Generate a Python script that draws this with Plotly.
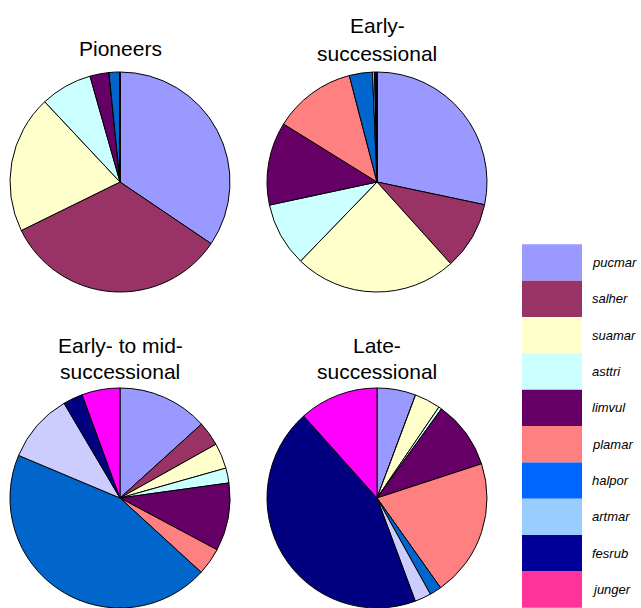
import plotly.graph_objects as go

W, H = 641, 608

# Species, in the order the slices run clockwise from 12 o'clock
species = ["pucmar", "salher", "suamar", "asttri", "limvul",
           "plamar", "halpor", "artmar", "fesrub", "junger"]

# Slice fill colours
pie_colors = ["#9999FF", "#993366", "#FFFFCC", "#CCFFFF", "#660066",
              "#FF8080", "#0066CC", "#CCCCFF", "#000080", "#FF00FF"]

# Swatch colours shown in the key
legend_colors = ["#9999FF", "#993366", "#FFFFCC", "#CCFFFF", "#660066",
                 "#FF8080", "#0066FF", "#99CCFF", "#000099", "#FF3399"]

# Relative cover (%) per successional stage
pioneers = [34.5, 33.3, 20.3, 7.6, 2.8, 0.0, 1.6, 0.0, 0.0, 0.0]
early = [28.3, 10.0, 23.9, 9.4, 12.2, 12.1, 3.4, 0.3, 0.35, 0.0]
early_mid = [13.3, 3.6, 3.75, 2.2, 10.0, 4.0, 44.6, 10.2, 2.9, 5.6]
late = [5.7, 0.0, 3.8, 0.45, 10.0, 20.2, 1.75, 2.4, 44.0, 11.6]

stages = [
    (["Pioneers"], pioneers, (120, 182), [48]),
    (["Early-", "successional"], early, (377, 182), [25, 53]),
    (["Early- to mid-", "successional"], early_mid, (120, 498), [345, 371]),
    (["Late-", "successional"], late, (377, 498), [345, 371]),
]

R = 110  # pie radius in px


def px(x):
    return x / W


def py(y):
    return min(1.0, max(0.0, 1 - y / H))


fig = go.Figure()
annotations = []
shapes = []

for title_lines, values, (cx, cy), title_ys in stages:
    fig.add_trace(go.Pie(
        labels=species,
        values=values,
        sort=False,
        direction="clockwise",
        rotation=0,
        textinfo="none",
        hoverinfo="label+percent",
        showlegend=False,
        marker=dict(colors=pie_colors, line=dict(color="#000000", width=1)),
        domain=dict(x=[px(cx - R), px(cx + R)], y=[py(cy + R), py(cy - R)]),
    ))
    for line, ty in zip(title_lines, title_ys):
        annotations.append(dict(
            text=line, x=px(cx), y=py(ty), xref="paper", yref="paper",
            xanchor="center", yanchor="middle", showarrow=False,
            font=dict(family="Liberation Sans, Arial", size=21, color="#000000"),
        ))

# Key: colour swatches with italic species codes
key_x0, key_x1, key_top, key_h = 522, 582, 244.3, 36.35
for i, (name, col) in enumerate(zip(species, legend_colors)):
    y0 = key_top + i * key_h
    shapes.append(dict(
        type="rect", xref="paper", yref="paper",
        x0=px(key_x0), x1=px(key_x1), y0=py(y0 + key_h), y1=py(y0),
        fillcolor=col, line=dict(width=0),
    ))
    annotations.append(dict(
        text=name, x=px(590), y=py(y0 + key_h / 2), xref="paper", yref="paper",
        xanchor="left", yanchor="middle", showarrow=False,
        font=dict(family="Liberation Sans, Arial", size=13, color="#000000",
                  style="italic"),
    ))

fig.update_layout(
    width=W, height=H,
    margin=dict(l=0, r=0, t=0, b=0),
    paper_bgcolor="#FFFFFF",
    plot_bgcolor="#FFFFFF",
    annotations=annotations,
    shapes=shapes,
)

fig.write_html("out.html")
